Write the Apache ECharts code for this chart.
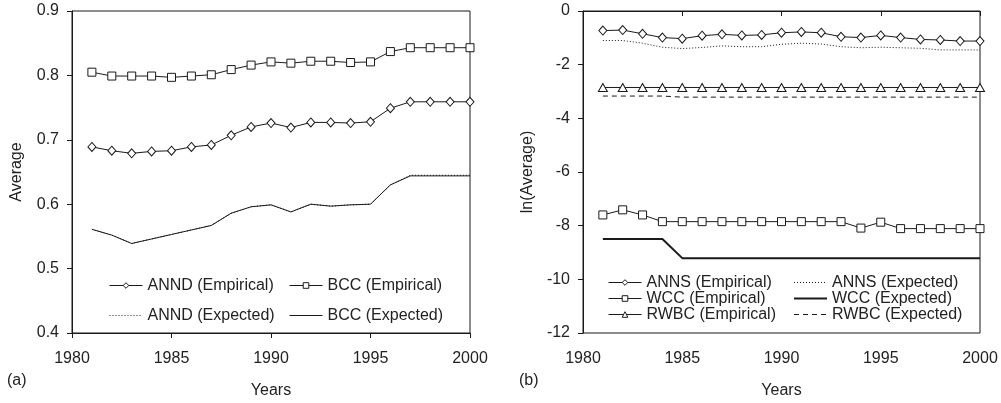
<!DOCTYPE html>
<html>
<head>
<meta charset="utf-8">
<script src="https://cdn.jsdelivr.net/npm/echarts/dist/echarts.min.js"></script>
<style>
  html, body { margin: 0; padding: 0; background: #fff; }
  #chart { width: 1001px; height: 403px; }
</style>
</head>
<body>
<div id="chart"></div>
<script>
// Years on the horizontal axis of both panels
const years = [1981, 1982, 1983, 1984, 1985, 1986, 1987, 1988, 1989, 1990,
               1991, 1992, 1993, 1994, 1995, 1996, 1997, 1998, 1999, 2000];

// Panel (a): averages
const anndEmpirical = [0.689, 0.683, 0.679, 0.682, 0.683, 0.689, 0.692, 0.707, 0.720, 0.726,
                       0.719, 0.727, 0.727, 0.726, 0.728, 0.749, 0.759, 0.759, 0.759, 0.759];
const bccEmpirical  = [0.805, 0.799, 0.799, 0.799, 0.797, 0.799, 0.801, 0.809, 0.816, 0.821,
                       0.819, 0.822, 0.822, 0.820, 0.821, 0.837, 0.843, 0.843, 0.843, 0.843];
const anndExpected  = [0.561, 0.552, 0.539, 0.546, 0.553, 0.560, 0.567, 0.586, 0.596, 0.599,
                       0.588, 0.600, 0.597, 0.599, 0.600, 0.630, 0.645, 0.645, 0.645, 0.645];
const bccExpected   = [0.561, 0.552, 0.539, 0.546, 0.553, 0.560, 0.567, 0.586, 0.596, 0.599,
                       0.588, 0.600, 0.597, 0.599, 0.600, 0.630, 0.644, 0.644, 0.644, 0.644];

// Panel (b): log of averages
const annsEmpirical = [-0.73, -0.71, -0.85, -0.99, -1.03, -0.92, -0.87, -0.91, -0.89, -0.81,
                       -0.78, -0.81, -0.96, -0.99, -0.91, -0.99, -1.06, -1.08, -1.12, -1.12];
const annsExpected  = [-1.10, -1.10, -1.20, -1.35, -1.40, -1.36, -1.30, -1.33, -1.33, -1.24,
                       -1.20, -1.23, -1.33, -1.37, -1.35, -1.37, -1.39, -1.45, -1.45, -1.45];
const wccEmpirical  = [-7.60, -7.41, -7.60, -7.85, -7.85, -7.85, -7.85, -7.85, -7.85, -7.85,
                       -7.85, -7.85, -7.85, -8.09, -7.87, -8.11, -8.11, -8.11, -8.11, -8.11];
const wccExpected   = [-8.50, -8.50, -8.50, -8.50, -9.21, -9.21, -9.21, -9.21, -9.21, -9.21,
                       -9.21, -9.21, -9.21, -9.21, -9.21, -9.21, -9.21, -9.21, -9.21, -9.21];
const rwbcEmpirical = [-2.85, -2.85, -2.85, -2.85, -2.85, -2.85, -2.85, -2.85, -2.85, -2.85,
                       -2.85, -2.85, -2.85, -2.85, -2.85, -2.85, -2.85, -2.85, -2.85, -2.85];
const rwbcExpected  = [-3.17, -3.17, -3.17, -3.17, -3.21, -3.21, -3.21, -3.21, -3.21, -3.21,
                       -3.21, -3.21, -3.21, -3.21, -3.21, -3.21, -3.21, -3.21, -3.21, -3.21];

const INK = '#1a1a1a';
const FONT = 'Liberation Sans, Arial, sans-serif';
const pairs = vals => years.map((y, i) => [y, vals[i]]);

function lineSeries(name, vals, idx, opts) {
  const o = opts || {};
  return {
    name: name,
    type: 'line',
    xAxisIndex: idx,
    yAxisIndex: idx,
    data: pairs(vals),
    symbol: o.symbol || 'none',
    symbolSize: o.symbolSize || 8,
    showSymbol: !!o.symbol,
    z: o.z || 2,
    itemStyle: { color: '#fff', borderColor: INK, borderWidth: 1 },
    lineStyle: { color: INK, width: o.width || 1, type: o.type || 'solid' },
    emphasis: { disabled: true },
    animation: false
  };
}

function xAxis(idx) {
  return {
    type: 'value', gridIndex: idx, min: 1980, max: 2000, interval: 5,
    name: 'Years', nameLocation: 'middle', nameGap: 50,
    nameTextStyle: { fontSize: 16, color: '#222', fontFamily: FONT },
    axisLine: { show: true, lineStyle: { color: INK, width: 1 } },
    axisTick: { show: true, inside: false, length: 5, lineStyle: { color: INK } },
    axisLabel: { fontSize: 16, color: '#222', fontFamily: FONT, margin: 18, formatter: v => String(v) },
    splitLine: { show: false }
  };
}

function yAxis(idx, min, max, interval, name, fmt) {
  return {
    type: 'value', gridIndex: idx, min: min, max: max, interval: interval,
    name: name, nameLocation: 'middle', nameGap: 47,
    nameTextStyle: { fontSize: 16, color: '#222', fontFamily: FONT },
    axisLine: { show: true, lineStyle: { color: INK, width: 1 } },
    axisTick: { show: true, inside: false, length: 5, lineStyle: { color: INK } },
    axisLabel: { fontSize: 16, color: '#222', fontFamily: FONT, margin: 13, formatter: fmt },
    splitLine: { show: false }
  };
}

// Legend entries: plain-line series get an invisible symbol so only the line shows
const plainLine = { color: 'transparent', borderColor: 'transparent', borderWidth: 0 };
function entry(name, marker, lineWidth, dash) {
  return {
    name: name,
    itemStyle: marker ? { color: '#fff', borderColor: INK, borderWidth: 1 } : plainLine,
    lineStyle: { color: INK, width: lineWidth || 1, type: dash || 'solid', opacity: 1 }
  };
}

function legend(left, top, gap, items) {
  return {
    orient: 'vertical', left: left, top: top, itemGap: gap,
    itemWidth: 33, itemHeight: 7, selectedMode: false,
    textStyle: { fontSize: 16, color: '#222', fontFamily: FONT },
    data: items
  };
}

const chart = echarts.init(document.getElementById('chart'), null, { renderer: 'canvas' });
chart.setOption({
  backgroundColor: '#fff',
  animation: false,
  grid: [
    { left: 72, right: 531, top: 11, bottom: 70, show: true, borderColor: INK, borderWidth: 1, backgroundColor: 'transparent', outerBoundsMode: 'none' },
    { left: 583, right: 21, top: 11, bottom: 70, show: true, borderColor: INK, borderWidth: 1, backgroundColor: 'transparent', outerBoundsMode: 'none' }
  ],
  xAxis: [xAxis(0), xAxis(1)],
  yAxis: [
    yAxis(0, 0.4, 0.9, 0.1, 'Average', v => v.toFixed(1)),
    yAxis(1, -12, 0, 2, 'ln(Average)', v => String(v))
  ],
  legend: [
    legend(104, 272.5, 14, [entry('ANND (Empirical)', true), entry('ANND (Expected)', false, 1, [1, 2])]),
    legend(284, 272.5, 14, [entry('BCC (Empirical)', true), entry('BCC (Expected)', false)]),
    legend(603, 269.5, 0, [entry('ANNS (Empirical)', true), entry('WCC (Empirical)', true), entry('RWBC (Empirical)', true)]),
    legend(788, 269.5, 0, [entry('ANNS (Expected)', false, 1, [1, 2]), entry('WCC (Expected)', false, 2), entry('RWBC (Expected)', false, 1, [5, 4])])
  ],
  title: [
    { text: '(a)', left: 7, top: 373, textStyle: { fontSize: 16, fontWeight: 'normal', color: '#222', fontFamily: FONT }, padding: 0 },
    { text: '(b)', left: 519, top: 373, textStyle: { fontSize: 16, fontWeight: 'normal', color: '#222', fontFamily: FONT }, padding: 0 }
  ],
  series: [
    lineSeries('BCC (Expected)', bccExpected, 0, {}),
    lineSeries('ANND (Expected)', anndExpected, 0, { type: [1, 2] }),
    lineSeries('ANND (Empirical)', anndEmpirical, 0, { symbol: 'diamond', symbolSize: [8, 9], z: 3 }),
    lineSeries('BCC (Empirical)', bccEmpirical, 0, { symbol: 'rect', symbolSize: 8, z: 3 }),

    lineSeries('ANNS (Expected)', annsExpected, 1, { type: [1, 2] }),
    lineSeries('WCC (Expected)', wccExpected, 1, { width: 2 }),
    lineSeries('RWBC (Expected)', rwbcExpected, 1, { type: [5, 4] }),
    lineSeries('ANNS (Empirical)', annsEmpirical, 1, { symbol: 'diamond', symbolSize: [8, 9], z: 3 }),
    lineSeries('WCC (Empirical)', wccEmpirical, 1, { symbol: 'rect', symbolSize: 8, z: 3 }),
    lineSeries('RWBC (Empirical)', rwbcEmpirical, 1, { symbol: 'triangle', symbolSize: [9, 8], z: 3 })
  ]
});
</script>
</body>
</html>
